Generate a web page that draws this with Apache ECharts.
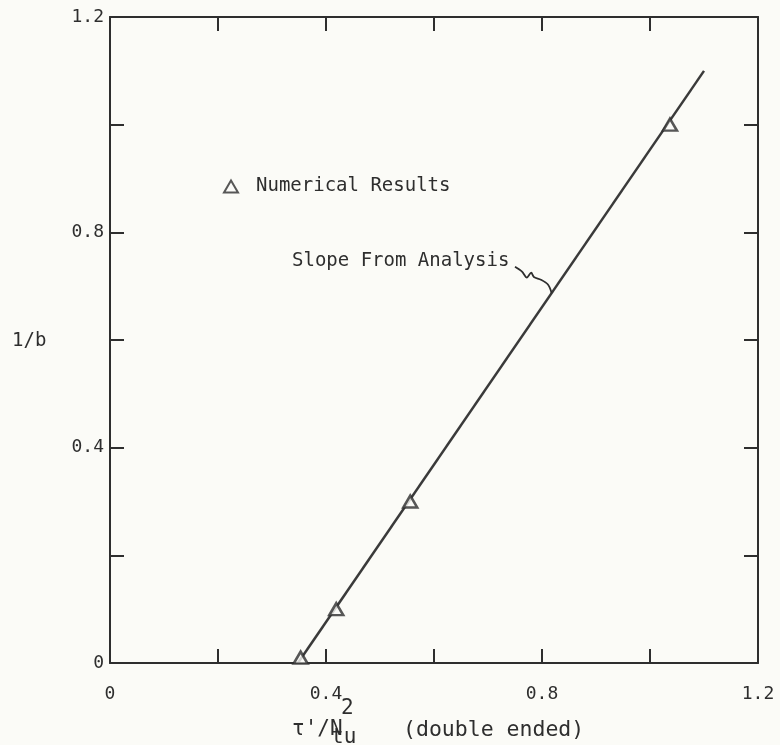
<!DOCTYPE html>
<html>
<head>
<meta charset="utf-8">
<script src="https://cdn.jsdelivr.net/npm/echarts@6/dist/echarts.min.js"></script>
<style>
  html, body { margin: 0; padding: 0; background: #fbfbf7; }
  #chart { width: 780px; height: 745px; }
</style>
</head>
<body>
<div id="chart"></div>
<script>
// Numerical results: tau'/N_tu^2 (double ended) vs 1/b
const numX = [0.353, 0.419, 0.556, 1.037];
const numY = [0.01, 0.10, 0.30, 1.00];

// Straight line with the slope from the analysis
const slopeX = [0.348, 1.10];
const slopeY = [0.0, 1.10];

// Wavy leader from the "Slope From Analysis" label to the line (data units)
const leaderX = [0.750, 0.763, 0.772, 0.780, 0.785, 0.798, 0.811, 0.818];
const leaderY = [0.736, 0.727, 0.716, 0.725, 0.717, 0.712, 0.703, 0.687];

// Axis ticks
const axisMin = 0, axisMax = 1.2, tickStep = 0.2;
const labelledTicks = [0, 0.4, 0.8, 1.2];

const ink = '#2e2e2e';
const mono = '"DejaVu Sans Mono", "Liberation Mono", monospace';

const zip = (a, b) => a.map((v, i) => [v, b[i]]);
const fmt = v => {
  const r = Math.round(v * 10) / 10;
  if (!labelledTicks.some(t => Math.abs(t - r) < 1e-6)) return '';
  return r === 0 ? '0' : r.toFixed(1);
};

const frameAxis = (extra) => Object.assign({
  type: 'value',
  min: axisMin,
  max: axisMax,
  interval: tickStep,
  splitLine: { show: false },
  axisLine: { show: true, onZero: false, lineStyle: { color: ink, width: 2 } },
  axisTick: { show: true, inside: true, length: 14, lineStyle: { color: ink, width: 2 } },
  axisLabel: { show: false }
}, extra);

const chart = echarts.init(document.getElementById('chart'), null, { renderer: 'canvas' });

chart.setOption({
  backgroundColor: '#fbfbf7',
  animation: false,
  grid: { left: 110, right: 22, top: 17, bottom: 82 },
  xAxis: [
    frameAxis({
      position: 'bottom',
      axisLabel: {
        show: true, margin: 22, formatter: fmt,
        color: ink, fontFamily: mono, fontSize: 18
      }
    }),
    frameAxis({ position: 'top' })
  ],
  yAxis: [
    frameAxis({
      position: 'left',
      axisLabel: {
        show: true, margin: 6, formatter: fmt,
        color: ink, fontFamily: mono, fontSize: 18
      }
    }),
    frameAxis({ position: 'right' })
  ],
  legend: {
    left: 218, top: 172,
    itemWidth: 14, itemHeight: 12, itemGap: 0,
    data: ['Numerical Results'],
    textStyle: { color: ink, fontFamily: mono, fontSize: 19, padding: [0, 0, 0, 13] },
    selectedMode: false
  },
  series: [
    {
      name: 'Slope From Analysis',
      type: 'line',
      data: zip(slopeX, slopeY),
      showSymbol: false,
      lineStyle: { color: '#3a3a3a', width: 2.5 },
      z: 3
    },
    {
      name: 'leader',
      type: 'line',
      data: zip(leaderX, leaderY),
      smooth: 0.3,
      showSymbol: false,
      silent: true,
      lineStyle: { color: ink, width: 1.8 },
      z: 3
    },
    {
      name: 'Numerical Results',
      type: 'scatter',
      data: zip(numX, numY),
      symbol: 'triangle',
      symbolSize: [14, 12],
      itemStyle: { color: '#fbfbf7', borderColor: ink, borderWidth: 2.5 },
      z: 4
    }
  ],
  graphic: [
    {
      type: 'text', left: 292, top: 252,
      style: { text: 'Slope From Analysis', fill: ink, font: '19px ' + mono }
    },
    {
      type: 'text', left: 12, top: 332,
      style: { text: '1/b', fill: ink, font: '19px ' + mono }
    },
    // x-axis title: tau'/N with stacked superscript "2" and subscript "tu"
    {
      type: 'text', left: 292, top: 719,
      style: { text: "\u03c4'/N", fill: ink, font: '21px ' + mono }
    },
    {
      type: 'text', left: 341, top: 698,
      style: { text: '2', fill: ink, font: '21px ' + mono }
    },
    {
      type: 'text', left: 331, top: 727,
      style: { text: 'tu', fill: ink, font: '21px ' + mono }
    },
    {
      type: 'text', left: 403, top: 719,
      style: { text: '(double ended)', fill: ink, font: '21.5px ' + mono }
    }
  ]
});
</script>
</body>
</html>
